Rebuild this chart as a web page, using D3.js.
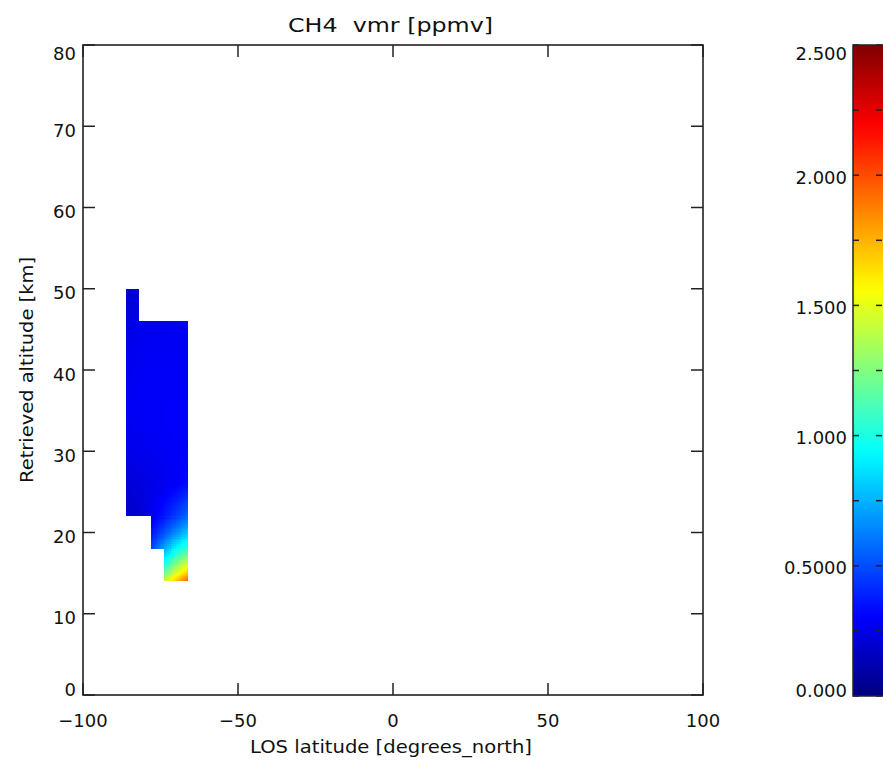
<!DOCTYPE html>
<html>
<head>
<meta charset="utf-8">
<script src="https://cdn.jsdelivr.net/npm/d3@7"></script>
<style>
  html, body { margin: 0; padding: 0; background: #fff; }
  svg { display: block; }
  text { font-family: "DejaVu Sans", sans-serif; fill: #111; }
</style>
</head>
<body>
<svg id="chart" width="883" height="765"></svg>
<script>
// ---- data ----
const chartTitle = "CH4  vmr [ppmv]";
const xLabel = "LOS latitude [degrees_north]";
const yLabel = "Retrieved altitude [km]";
const xTicks = [-100, -50, 0, 50, 100];
const xTickLabels = ["\u2212100", "\u221250", "0", "50", "100"];
const yTicks = [0, 10, 20, 30, 40, 50, 60, 70, 80];
const yTickLabels = ["0", "10", "20", "30", "40", "50", "60", "70", "80"];
const cbarTicks = [0, 0.5, 1.0, 1.5, 2.0, 2.5];
const cbarTickLabels = ["0.000", "0.5000", "1.000", "1.500", "2.000", "2.500"];
const cbarMinorTicks = [0.25, 0.75, 1.25, 1.75, 2.25];

// grid nodes (latitude, altitude) and CH4 vmr values [ppmv]
const latNodes = [-86, -82, -78, -74, -70, -66];
const altNodes = [14, 16, 18, 20, 22, 26, 30, 34, 38, 42, 46, 50];
const ch4Alt14 = [null, null, null, 1.40, 1.72, 1.98];
const ch4Alt16 = [null, null, null, 1.00, 1.28, 1.52];
const ch4Alt18 = [null, null, 0.48, 0.72, 0.94, 1.10];
const ch4Alt20 = [null, null, 0.36, 0.50, 0.66, 0.82];
const ch4Alt22 = [0.18, 0.20, 0.27, 0.36, 0.46, 0.58];
const ch4Alt26 = [0.21, 0.23, 0.25, 0.27, 0.30, 0.34];
const ch4Alt30 = [0.26, 0.27, 0.28, 0.29, 0.30, 0.30];
const ch4Alt34 = [0.28, 0.29, 0.30, 0.30, 0.31, 0.30];
const ch4Alt38 = [0.28, 0.29, 0.30, 0.30, 0.30, 0.30];
const ch4Alt42 = [0.27, 0.28, 0.29, 0.29, 0.29, 0.29];
const ch4Alt46 = [0.24, 0.26, 0.27, 0.27, 0.28, 0.28];
const ch4Alt50 = [0.20, 0.22, null, null, null, null];
const ch4Rows = [ch4Alt14, ch4Alt16, ch4Alt18, ch4Alt20, ch4Alt22, ch4Alt26,
                 ch4Alt30, ch4Alt34, ch4Alt38, ch4Alt42, ch4Alt46, ch4Alt50];

// ---- layout ----
const svg = d3.select("#chart");
const plot = { left: 83, right: 703, top: 45, bottom: 695 };
const cbar = { left: 853, right: 885, top: 45, bottom: 696 };

const x = d3.scaleLinear().domain([-100, 100]).range([plot.left, plot.right]);
const y = d3.scaleLinear().domain([0, 80]).range([plot.bottom, plot.top]);
const cy = d3.scaleLinear().domain([0, 2.5]).range([cbar.bottom, cbar.top]);

// jet colour table
function jet(t) {
  const c = v => Math.max(0, Math.min(1, v));
  const r = c(1.5 - Math.abs(4 * t - 3));
  const g = c(1.5 - Math.abs(4 * t - 2));
  const b = c(1.5 - Math.abs(4 * t - 1));
  return d3.rgb(r * 255, g * 255, b * 255).formatHex();
}
const color = d3.scaleSequential(jet).domain([0, 2.5]);

// ---- image cells (smoothly shaded within each grid cell) ----
const imgG = svg.append("g").attr("shape-rendering", "crispEdges");
for (let j = 0; j < altNodes.length - 1; j++) {
  for (let i = 0; i < latNodes.length - 1; i++) {
    const v00 = ch4Rows[j][i], v10 = ch4Rows[j][i + 1];
    const v01 = ch4Rows[j + 1][i], v11 = ch4Rows[j + 1][i + 1];
    if (v00 == null || v10 == null || v01 == null || v11 == null) continue;
    const x0 = x(latNodes[i]), x1 = x(latNodes[i + 1]);
    const yb = y(altNodes[j]), yt = y(altNodes[j + 1]);
    const nx = Math.ceil((x1 - x0) / 2), ny = Math.ceil((yb - yt) / 2);
    const dx = (x1 - x0) / nx, dy = (yb - yt) / ny;
    const bottomI = d3.interpolateNumber(v00, v10);
    const topI = d3.interpolateNumber(v01, v11);
    for (let a = 0; a < nx; a++) {
      const u = (a + 0.5) / nx;
      const col = d3.interpolateNumber(bottomI(u), topI(u));
      for (let b = 0; b < ny; b++) {
        const w = (b + 0.5) / ny;
        imgG.append("rect")
          .attr("x", x0 + a * dx)
          .attr("y", yb - (b + 1) * dy)
          .attr("width", dx + (a < nx - 1 ? 0.6 : 0))
          .attr("height", dy + (b > 0 ? 0.6 : 0))
          .attr("fill", color(col(w)));
      }
    }
  }
}

// ---- frame & ticks ----
const axisColor = "#222";
svg.append("rect")
  .attr("x", plot.left).attr("y", plot.top)
  .attr("width", plot.right - plot.left).attr("height", plot.bottom - plot.top)
  .attr("fill", "none").attr("stroke", axisColor).attr("stroke-width", 1.6);

const tickLen = 12;
const tg = svg.append("g").attr("stroke", axisColor).attr("stroke-width", 1.5);
xTicks.forEach(t => {
  tg.append("line").attr("x1", x(t)).attr("x2", x(t)).attr("y1", plot.bottom).attr("y2", plot.bottom - tickLen);
  tg.append("line").attr("x1", x(t)).attr("x2", x(t)).attr("y1", plot.top).attr("y2", plot.top + tickLen);
});
yTicks.forEach(t => {
  tg.append("line").attr("x1", plot.left).attr("x2", plot.left + tickLen).attr("y1", y(t)).attr("y2", y(t));
  tg.append("line").attr("x1", plot.right).attr("x2", plot.right - tickLen).attr("y1", y(t)).attr("y2", y(t));
});

// tick labels
xTicks.forEach((t, k) => {
  svg.append("text").attr("x", x(t)).attr("y", 727)
    .attr("text-anchor", "middle").attr("font-size", 18).text(xTickLabels[k]);
});
yTicks.forEach((t, k) => {
  const cyPos = Math.max(53, Math.min(689, y(t) + 4));
  svg.append("text").attr("x", 76).attr("y", cyPos)
    .attr("text-anchor", "end").attr("dominant-baseline", "central")
    .attr("font-size", 18).text(yTickLabels[k]);
});

// titles
svg.append("text").attr("x", 288).attr("y", 32)
  .attr("font-size", 20).attr("textLength", 205).attr("lengthAdjust", "spacingAndGlyphs")
  .attr("xml:space", "preserve").style("white-space", "pre")
  .text(chartTitle);
svg.append("text").attr("x", 250).attr("y", 753)
  .attr("font-size", 18).attr("textLength", 282).attr("lengthAdjust", "spacingAndGlyphs")
  .text(xLabel);
svg.append("text")
  .attr("transform", "translate(33,483) rotate(-90)")
  .attr("font-size", 18).attr("textLength", 226).attr("lengthAdjust", "spacingAndGlyphs")
  .text(yLabel);

// ---- colour bar ----
const defs = svg.append("defs");
const grad = defs.append("linearGradient").attr("id", "cbarGrad")
  .attr("x1", 0).attr("y1", 1).attr("x2", 0).attr("y2", 0);
d3.range(0, 1.0001, 0.02).forEach(s => {
  grad.append("stop").attr("offset", s).attr("stop-color", color(s * 2.5));
});
svg.append("rect")
  .attr("x", cbar.left).attr("y", cbar.top)
  .attr("width", cbar.right - cbar.left).attr("height", cbar.bottom - cbar.top)
  .attr("fill", "url(#cbarGrad)").attr("stroke", axisColor).attr("stroke-width", 1.5);

const cbTickLen = 6;
const cg = svg.append("g").attr("stroke", axisColor).attr("stroke-width", 1.5);
cbarTicks.concat(cbarMinorTicks).forEach(t => {
  cg.append("line").attr("x1", cbar.left).attr("x2", cbar.left + cbTickLen).attr("y1", cy(t)).attr("y2", cy(t));
  cg.append("line").attr("x1", 882).attr("x2", 882 - cbTickLen).attr("y1", cy(t)).attr("y2", cy(t));
});
cbarTicks.forEach((t, k) => {
  const pos = Math.max(53, Math.min(690, cy(t) + 2));
  svg.append("text").attr("x", 847).attr("y", pos)
    .attr("text-anchor", "end").attr("dominant-baseline", "central")
    .attr("font-size", 18).text(cbarTickLabels[k]);
});
</script>
</body>
</html>
